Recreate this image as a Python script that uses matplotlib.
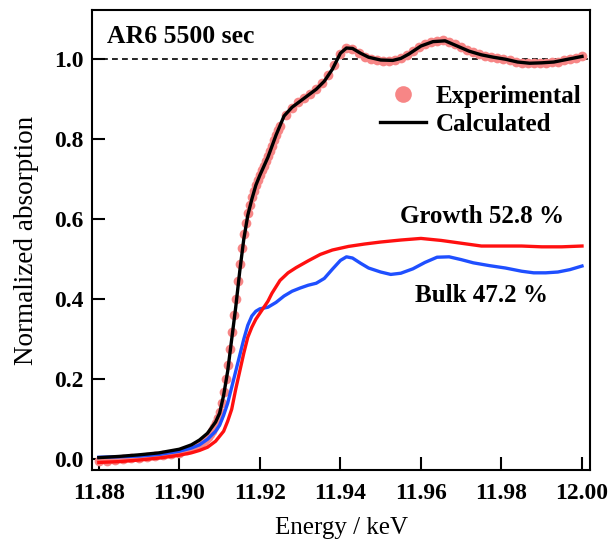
import matplotlib
matplotlib.use("Agg")
import matplotlib.pyplot as plt
from matplotlib.lines import Line2D

# --- data (energy in keV, normalized absorption) ---
exp_energy = [
    11.880, 11.882, 11.884, 11.886, 11.888, 11.890, 11.892, 11.894, 11.896, 11.898,
    11.900, 11.902, 11.904,
    11.9045, 11.905, 11.9055, 11.906, 11.9065, 11.907, 11.9075, 11.908, 11.9085, 11.909,
    11.9095, 11.910, 11.9105, 11.911, 11.9115, 11.912, 11.9125, 11.913, 11.9135, 11.914,
    11.9145, 11.915, 11.9155, 11.916, 11.9165, 11.917, 11.9175, 11.918, 11.9185, 11.919,
    11.9195, 11.920, 11.9205, 11.921, 11.9215, 11.922, 11.9225, 11.923, 11.9235, 11.924,
    11.9245, 11.925,
    11.9265, 11.928, 11.9295, 11.931, 11.9325, 11.934, 11.9355, 11.937, 11.9385, 11.940,
    11.9415, 11.943, 11.9445, 11.946, 11.9475, 11.949, 11.9505, 11.952, 11.9535, 11.955,
    11.9565, 11.958, 11.9595, 11.961, 11.9625, 11.964, 11.9655, 11.967, 11.9685, 11.970,
    11.9715, 11.973, 11.9745, 11.976, 11.9775, 11.979, 11.9805, 11.982, 11.9835, 11.985,
    11.9865, 11.988, 11.9895, 11.991, 11.9925, 11.994, 11.9955, 11.997, 11.9985, 12.000,
]
exp_abs = [
    -0.005, -0.004, -0.002, 0.000, 0.002, 0.004, 0.006, 0.008, 0.010, 0.013,
    0.016, 0.022, 0.030,
    0.034, 0.037, 0.041, 0.045, 0.050, 0.056, 0.063, 0.071, 0.080, 0.090,
    0.102, 0.118, 0.140, 0.168, 0.200, 0.235, 0.275, 0.318, 0.360, 0.400,
    0.445, 0.488, 0.527, 0.562, 0.590, 0.615, 0.636, 0.655, 0.671, 0.686,
    0.699, 0.711, 0.722, 0.733, 0.745, 0.757, 0.770, 0.784, 0.797, 0.810,
    0.823, 0.834,
    0.860, 0.878, 0.893, 0.903, 0.913, 0.925, 0.940, 0.960, 0.985, 1.012,
    1.027, 1.026, 1.016, 1.006, 1.000, 0.997, 0.996, 0.996, 0.998, 1.003,
    1.011, 1.020, 1.030, 1.038, 1.043, 1.046, 1.047, 1.044, 1.037, 1.030,
    1.023, 1.018, 1.013, 1.009, 1.006, 1.004, 1.001, 0.997, 0.994, 0.991,
    0.990, 0.990, 0.990, 0.991, 0.992, 0.994, 0.997, 1.000, 1.004, 1.008,
]

calc_energy = [
    11.880, 11.885, 11.890, 11.895, 11.900, 11.903, 11.905, 11.907, 11.909, 11.910,
    11.911, 11.912, 11.913, 11.914, 11.915, 11.916, 11.917, 11.918, 11.919, 11.920,
    11.922, 11.924, 11.926, 11.928, 11.930, 11.932, 11.934, 11.936, 11.938, 11.940,
    11.9415, 11.943, 11.945, 11.947, 11.950, 11.953, 11.955, 11.957, 11.960, 11.963,
    11.966, 11.969, 11.972, 11.975, 11.978, 11.981, 11.984, 11.987, 11.990, 11.993,
    11.996, 12.000,
]
calc_abs = [
    0.004, 0.007, 0.011, 0.016, 0.025, 0.036, 0.048, 0.065, 0.093, 0.115,
    0.160, 0.220, 0.300, 0.380, 0.470, 0.550, 0.610, 0.650, 0.685, 0.710,
    0.755, 0.810, 0.858, 0.880, 0.895, 0.910, 0.925, 0.945, 0.975, 1.015,
    1.028, 1.027, 1.015, 1.005, 0.998, 0.997, 1.002, 1.013, 1.033, 1.044,
    1.046, 1.033, 1.020, 1.011, 1.005, 1.000, 0.993, 0.990, 0.991, 0.993,
    0.999, 1.007,
]

growth_energy = [
    11.880, 11.885, 11.890, 11.895, 11.900, 11.903, 11.905, 11.907, 11.909, 11.911,
    11.912, 11.913, 11.914, 11.915, 11.916, 11.917, 11.918, 11.919, 11.920, 11.922,
    11.923, 11.925, 11.927, 11.929, 11.932, 11.935, 11.938, 11.942, 11.946, 11.950,
    11.955, 11.960, 11.965, 11.970, 11.975, 11.980, 11.985, 11.990, 11.995, 12.000,
]
growth_abs = [
    -0.008, -0.006, -0.002, 0.003, 0.010, 0.016, 0.022, 0.030, 0.045, 0.070,
    0.095, 0.125, 0.175, 0.220, 0.265, 0.305, 0.330, 0.350, 0.365, 0.395,
    0.415, 0.447, 0.466, 0.479, 0.496, 0.512, 0.523, 0.532, 0.538, 0.543,
    0.548, 0.552, 0.547, 0.540, 0.533, 0.533, 0.533, 0.531, 0.531, 0.533,
]

bulk_energy = [
    11.880, 11.885, 11.890, 11.895, 11.900, 11.903, 11.905, 11.907, 11.909, 11.910,
    11.911, 11.912, 11.913, 11.914, 11.915, 11.916, 11.917, 11.918, 11.919, 11.920,
    11.922, 11.924, 11.926, 11.928, 11.930, 11.932, 11.934, 11.936, 11.938, 11.940,
    11.9415, 11.943, 11.945, 11.947, 11.950, 11.9525, 11.955, 11.958, 11.961, 11.964,
    11.967, 11.970, 11.973, 11.977, 11.981, 11.985, 11.988, 11.991, 11.994, 11.997,
    12.000,
]
bulk_abs = [
    0.005, 0.006, 0.008, 0.012, 0.020, 0.028, 0.036, 0.050, 0.070, 0.085,
    0.110, 0.140, 0.180, 0.220, 0.260, 0.300, 0.335, 0.358, 0.370, 0.376,
    0.380, 0.392, 0.408, 0.420, 0.428, 0.435, 0.440, 0.452, 0.475, 0.497,
    0.506, 0.503, 0.490, 0.478, 0.468, 0.462, 0.465, 0.476, 0.492, 0.505,
    0.506, 0.499, 0.491, 0.484, 0.478, 0.470, 0.466, 0.466, 0.468, 0.474,
    0.483,
]

x_ticks = [11.88, 11.90, 11.92, 11.94, 11.96, 11.98, 12.00]
y_ticks = [0.0, 0.2, 0.4, 0.6, 0.8, 1.0]

PINK = "#f78686"

plt.rcParams["font.family"] = ["Liberation Serif", "DejaVu Serif"]

fig = plt.figure(figsize=(6.14, 5.42), dpi=100)
ax = fig.add_axes([0.1498, 0.1328, 0.8112, 0.8487])

ax.plot(exp_energy, exp_abs, "o", color=PINK, markersize=7, markeredgewidth=0, zorder=2)
ax.plot(bulk_energy, bulk_abs, color="#1f4fff", lw=2.4, zorder=3)
ax.plot(growth_energy, growth_abs, color="#ff1010", lw=2.4, zorder=3)
ax.plot(calc_energy, calc_abs, color="black", lw=2.4, zorder=4)
ax.axhline(1.0, color="black", lw=1.2, dashes=(3.5, 2.5), zorder=1)

ax.set_xlim(11.8783, 12.002)
ax.set_ylim(-0.027, 1.123)
ax.set_xticks(x_ticks)
ax.set_xticklabels([f"{v:.2f}" for v in x_ticks])
ax.set_yticks(y_ticks)
ax.set_yticklabels([f"{v:.1f}" for v in y_ticks])

for s in ax.spines.values():
    s.set_linewidth(1.5)
ax.tick_params(direction="in", length=9.5, width=1.5, top=False, right=False,
               labelsize=17)
ax.tick_params(axis="x", pad=9)
ax.tick_params(axis="y", pad=6)
for lab in ax.get_xticklabels() + ax.get_yticklabels():
    lab.set_fontweight("bold")

ax.set_xlabel("Energy / keV", fontsize=18, labelpad=10)
ax.set_ylabel("Normalized absorption", fontsize=19.5, labelpad=11)

ax.text(0.030, 0.942, "AR6 5500 sec", transform=ax.transAxes, fontsize=18.5,
        fontweight="bold", va="center", ha="left")
ax.text(0.618, 0.552, "Growth 52.8 %", transform=ax.transAxes, fontsize=18,
        fontweight="bold", va="center", ha="left")
ax.text(0.649, 0.380, "Bulk 47.2 %", transform=ax.transAxes, fontsize=18,
        fontweight="bold", va="center", ha="left")

handles = [
    Line2D([], [], ls="none", marker="o", color=PINK, markersize=12, markeredgewidth=0),
    Line2D([], [], color="black", lw=2.4),
]
ax.legend(handles, ["Experimental", "Calculated"], loc="upper left",
          bbox_to_anchor=(0.578, 0.838), frameon=False,
          prop={"weight": "bold", "size": 18}, handlelength=1.85,
          handletextpad=0.4, labelspacing=0.22, borderpad=0, borderaxespad=0)

fig.savefig("out.png", dpi=100)
